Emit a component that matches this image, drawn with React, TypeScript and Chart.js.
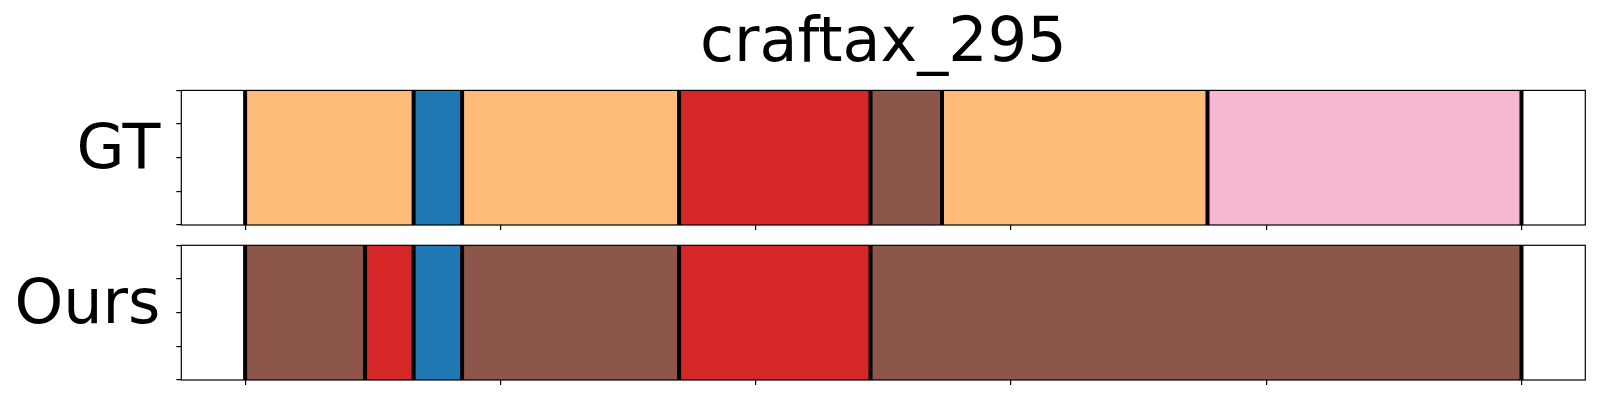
import React, { useEffect, useRef } from "react";
import { Chart, registerables } from "chart.js";

Chart.register(...registerables);

const TITLE = "craftax_295";
const X_TICKS = [0, 50, 100, 150, 200, 250];
const Y_TICKS = [0, 0.25, 0.5, 0.75, 1];
const X_MIN = -12.5;
const X_MAX = 262.5;

const GT_LABEL = "GT";
const GT_BOUNDS = [0, 33, 42.5, 85, 122.5, 136.5, 188.5, 250];
const GT_CLASSES = ["orange", "blue", "orange", "red", "brown", "orange", "pink"];

const OURS_LABEL = "Ours";
const OURS_BOUNDS = [0, 23.5, 33, 42.5, 85, 122.5, 250];
const OURS_CLASSES = ["brown", "red", "blue", "brown", "red", "brown"];

const CLASS_COLORS: Record<string, string> = {
  orange: "#ffbb78",
  blue: "#1f77b4",
  red: "#d62728",
  brown: "#8c564b",
  pink: "#f7b6d2",
};

const FONT = "'DejaVu Sans', sans-serif";

function makeConfig(
  rowLabel: string,
  bounds: number[],
  classes: string[],
  showTitle: boolean,
  padTop: number,
  xAxisHeight: number
): any {
  const datasets = classes.map((cls, i) => ({
    label: cls,
    data: [[bounds[i], bounds[i + 1]]],
    backgroundColor: CLASS_COLORS[cls],
    borderWidth: 0,
    grouped: false,
    barPercentage: 1,
    categoryPercentage: 1,
  }));

  const boundaryPlugin = {
    id: "boundaries",
    afterDatasetsDraw(chart: any) {
      const { ctx, chartArea } = chart;
      const x = chart.scales.x;
      ctx.save();
      ctx.strokeStyle = "#000";
      ctx.lineWidth = 4;
      for (const b of bounds) {
        const px = x.getPixelForValue(b);
        ctx.beginPath();
        ctx.moveTo(px, chartArea.top);
        ctx.lineTo(px, chartArea.bottom);
        ctx.stroke();
      }
      ctx.restore();
    },
  };

  const framePlugin = {
    id: "frame",
    afterDraw(chart: any) {
      const { ctx, chartArea } = chart;
      ctx.save();
      ctx.strokeStyle = "#000";
      ctx.lineWidth = 1.2;
      ctx.strokeRect(
        chartArea.left,
        chartArea.top,
        chartArea.right - chartArea.left,
        chartArea.bottom - chartArea.top
      );
      ctx.restore();
    },
  };

  return {
    type: "bar",
    data: { labels: [rowLabel], datasets },
    plugins: [boundaryPlugin, framePlugin],
    options: {
      indexAxis: "y",
      responsive: false,
      animation: false,
      events: [],
      layout: { padding: { left: 0, right: 14.7, top: padTop, bottom: 0 } },
      plugins: {
        legend: { display: false },
        tooltip: { enabled: false },
        title: {
          display: showTitle,
          fullSize: false,
          text: TITLE,
          color: "#000",
          font: { family: FONT, size: 62, weight: "normal", lineHeight: 1.2 },
          padding: { top: 8, bottom: 8 },
        },
      },
      scales: {
        x: {
          type: "linear",
          min: X_MIN,
          max: X_MAX,
          offset: false,
          afterBuildTicks: (s: any) => {
            s.ticks = X_TICKS.map((v) => ({ value: v }));
          },
          afterFit: (s: any) => {
            s.height = xAxisHeight;
            s.paddingLeft = 0;
            s.paddingRight = 0;
          },
          ticks: { callback: () => "", font: { size: 1 }, autoSkip: false },
          grid: {
            offset: false,
            drawOnChartArea: false,
            drawTicks: true,
            tickLength: 5,
            color: "#000",
            lineWidth: 1.2,
          },
          border: { display: false },
        },
        y: {
          type: "category",
          display: false,
        },
        yt: {
          type: "linear",
          position: "left",
          offset: false,
          min: Y_TICKS[0],
          max: Y_TICKS[Y_TICKS.length - 1],
          afterBuildTicks: (s: any) => {
            s.ticks = Y_TICKS.map((v) => ({ value: v }));
          },
          afterFit: (s: any) => {
            s.width = 181.3;
            s.paddingTop = 0;
            s.paddingBottom = 0;
          },
          ticks: {
            autoSkip: false,
            callback: (v: number) => (Math.abs(v - 0.5) < 1e-6 ? rowLabel : ""),
            color: "#000",
            font: { family: FONT, size: 62 },
            padding: 16,
            labelOffset: -6,
          },
          grid: {
            offset: false,
            drawOnChartArea: false,
            drawTicks: true,
            tickLength: 5,
            color: "#000",
            lineWidth: 1.2,
          },
          border: { display: false },
        },
      },
    },
  };
}

function App() {
  const topRef = useRef<HTMLCanvasElement>(null);
  const botRef = useRef<HTMLCanvasElement>(null);

  useEffect(() => {
    document.body.style.margin = "0";
    const c1 = new Chart(
      topRef.current as HTMLCanvasElement,
      makeConfig(GT_LABEL, GT_BOUNDS, GT_CLASSES, true, 0, 10)
    );
    const c2 = new Chart(
      botRef.current as HTMLCanvasElement,
      makeConfig(OURS_LABEL, OURS_BOUNDS, OURS_CLASSES, false, 10.3, 20)
    );
    return () => {
      c1.destroy();
      c2.destroy();
    };
  }, []);

  return (
    <div style={{ position: "relative", width: 1600, height: 400, background: "#fff" }}>
      <canvas
        ref={topRef}
        width={1600}
        height={235}
        style={{ position: "absolute", left: 0, top: 0, width: 1600, height: 235 }}
      />
      <canvas
        ref={botRef}
        width={1600}
        height={165}
        style={{ position: "absolute", left: 0, top: 235, width: 1600, height: 165 }}
      />
    </div>
  );
}

export default App;
